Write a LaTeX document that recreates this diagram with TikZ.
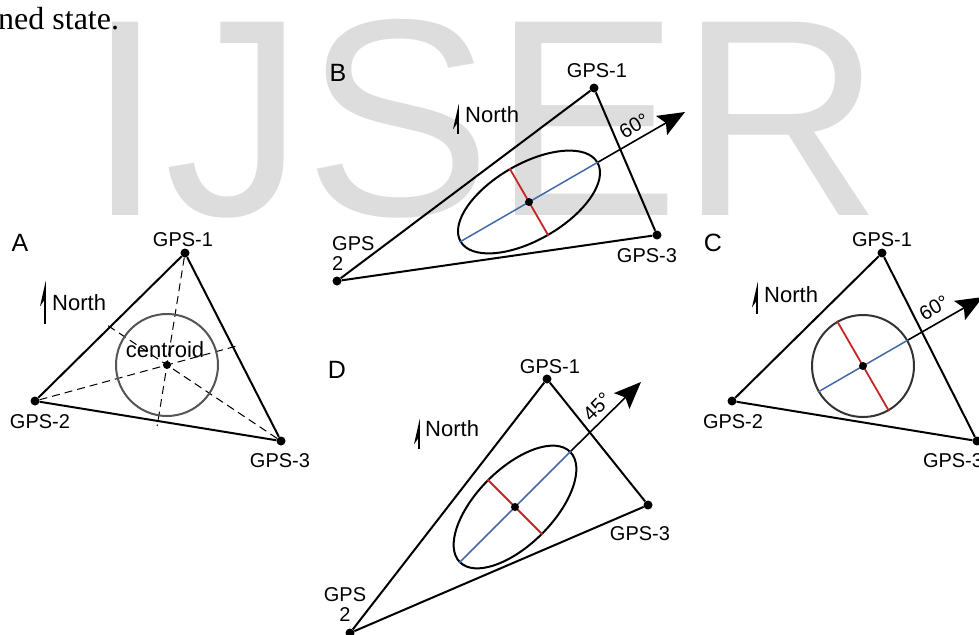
\documentclass[tikz,border=0pt]{standalone}
\usepackage{fontspec}
\setmainfont{Liberation Sans}
\newfontfamily\bodyserif{Liberation Serif}
\usepackage{tikz}
\usetikzlibrary{arrows.meta,positioning,calc,shapes.geometric}
\definecolor{wmgray}{RGB}{221,221,221}
\definecolor{axisblue}{RGB}{66,105,168}
\definecolor{axisred}{RGB}{196,38,38}
\definecolor{ringgray}{RGB}{85,85,85}

\begin{document}
\begin{tikzpicture}[x=1pt, y=-1pt,
    site/.style={circle, fill=black, inner sep=0pt, minimum size=9pt},
    lbl/.style={font=\fontsize{20}{20}\selectfont, inner sep=0pt},
    panel/.style={font=\fontsize{25}{25}\selectfont, inner sep=0pt},
    northlbl/.style={font=\fontsize{22}{22}\selectfont, inner sep=0pt, anchor=west},
    side/.style={line width=2pt},
    median/.style={line width=1pt, dash pattern=on 8pt off 5pt},
    northarr/.style={line width=1.5pt, -{Stealth[length=22pt, width=10pt, harpoon]}},
    heading/.style={line width=1.6pt, -{Stealth[length=27pt, width=22pt, inset=5pt]}},
    major/.style={axisblue, line width=1.5pt},
    minor/.style={axisred, line width=1.8pt},
    ring/.style={draw=ringgray, line width=2pt, circle, inner sep=0pt, minimum size=102pt},
    errell/.style={draw, line width=2pt, ellipse, inner sep=0pt}]

  \useasboundingbox (0,0) rectangle (979,634);

  % watermark and running text
  \node[anchor=base west, inner sep=0pt, text=wmgray, font=\fontsize{281}{281}\selectfont] (mark) at (86,215) {IJSER};
  \node[anchor=base west, inner sep=0pt, font=\bodyserif\fontsize{32}{32}\selectfont] (runon) at (-2,30) {ned state.};

  % A: centroid of the three receivers
  \node[panel] (A) at (20,243) {A};
  \node[site] (a1) at (185,253) {};
  \node[site] (a2) at (35,401) {};
  \node[site] (a3) at (281,441) {};
  \node[lbl] (a1lbl) at (183,240) {GPS-1};
  \node[lbl] (a2lbl) at (40,422) {GPS-2};
  \node[lbl] (a3lbl) at (280,461) {GPS-3};
  \coordinate (ac) at (barycentric cs:a1=1,a2=1,a3=1);
  \coordinate (m12) at ($(a1)!0.5!(a2)$);
  \coordinate (m23) at ($(a2)!0.5!(a3)$);
  \coordinate (m13) at ($(a1)!0.5!(a3)$);
  \draw[median] (a1) -- ($(a1)!1.03!(m23)$);
  \draw[median] (a2) -- ($(a2)!1.03!(m13)$);
  \draw[median] (a3) -- ($(a3)!1.03!(m12)$);
  \draw[side] (a1) -- (a2) -- (a3) -- (a1);
  \node[ring] (aring) at (ac) {};
  \node[site, minimum size=8pt] (acen) at (ac) {};
  \node[font=\fontsize{22}{22}\selectfont, inner sep=0pt] (acap) at (165,350) {centroid};
  \coordinate (anb) at (45,324);
  \coordinate (ant) at (45,281);
  \draw[northarr] (anb) -- (ant);
  \node[northlbl] (anorth) at (52,303) {North};

  % B: elongated ellipse, heading 60
  \node[panel] (B) at (338,73) {B};
  \node[site] (b1) at (594,88) {};
  \node[site] (b2) at (337,281) {};
  \node[site] (b3) at (657,235) {};
  \node[lbl] (b1lbl) at (597,71) {GPS-1};
  \node[lbl] (b3lbl) at (647,256) {GPS-3};
  \node[lbl, align=left, anchor=north west] (b2lbl) at (332,236) {GPS\\2};
  \draw[side] (b2) -- (b1) -- (b3) -- (b2);
  \node[errell, minimum width=158pt, minimum height=76pt, rotate=30] (bell) at (529,202) {};
  \draw[major] (bell.west) -- (bell.east);
  \draw[minor] (bell.north) -- (bell.south);
  \node[site, minimum size=8pt] (bcen) at (bell.center) {};
  \coordinate (btip) at (685,112);
  \draw[heading] (bell.east) -- (btip);
  \node[lbl, rotate=30] (bang) at (634,126) {60°};
  \coordinate (bnb) at (458,134);
  \coordinate (bnt) at (458,104);
  \draw[northarr] (bnb) -- (bnt);
  \node[northlbl] (bnorth) at (465,115) {North};

  % C: circle, heading 60
  \node[panel] (C) at (713,243) {C};
  \node[site] (c1) at (882,253) {};
  \node[site] (c2) at (732,401) {};
  \node[site] (c3) at (977,441) {};
  \node[lbl] (c1lbl) at (882,240) {GPS-1};
  \node[lbl] (c2lbl) at (733,422) {GPS-2};
  \node[lbl] (c3lbl) at (953,461) {GPS-3};
  \draw[side] (c1) -- (c2) -- (c3) -- (c1);
  \node[ring, draw=black!80, rotate=30] (cring) at (863,366) {};
  \draw[major] (cring.west) -- (cring.east);
  \draw[minor] (cring.north) -- (cring.south);
  \node[site, minimum size=8pt] (ccen) at (cring.center) {};
  \coordinate (ctip) at (983,297);
  \draw[heading] (cring.east) -- (ctip);
  \node[lbl, rotate=30] (cang) at (934,308) {60°};
  \coordinate (cnb) at (757,314);
  \coordinate (cnt) at (757,282);
  \draw[northarr] (cnb) -- (cnt);
  \node[northlbl] (cnorth) at (764,295) {North};

  % D: elongated ellipse, heading 45
  \node[panel] (D) at (337,370) {D};
  \node[site] (d1) at (547,379) {};
  \node[site] (d2) at (350,633) {};
  \node[site] (d3) at (648,505) {};
  \node[lbl] (d1lbl) at (550,367) {GPS-1};
  \node[lbl] (d3lbl) at (640,534) {GPS-3};
  \node[lbl, align=center, anchor=north] (d2lbl) at (345,587) {GPS\\2};
  \draw[side] (d2) -- (d1) -- (d3) -- (d2);
  \node[errell, minimum width=156pt, minimum height=76pt, rotate=45] (dell) at (515,507) {};
  \draw[major] (dell.west) -- (dell.east);
  \draw[minor] (dell.north) -- (dell.south);
  \node[site, minimum size=8pt] (dcen) at (dell.center) {};
  \coordinate (dtip) at (641,382);
  \draw[heading] (dell.east) -- (dtip);
  \node[lbl, rotate=45] (dang) at (597,407) {45°};
  \coordinate (dnb) at (419,449);
  \coordinate (dnt) at (419,419);
  \draw[northarr] (dnb) -- (dnt);
  \node[northlbl] (dnorth) at (425,429) {North};
\end{tikzpicture}
\end{document}
